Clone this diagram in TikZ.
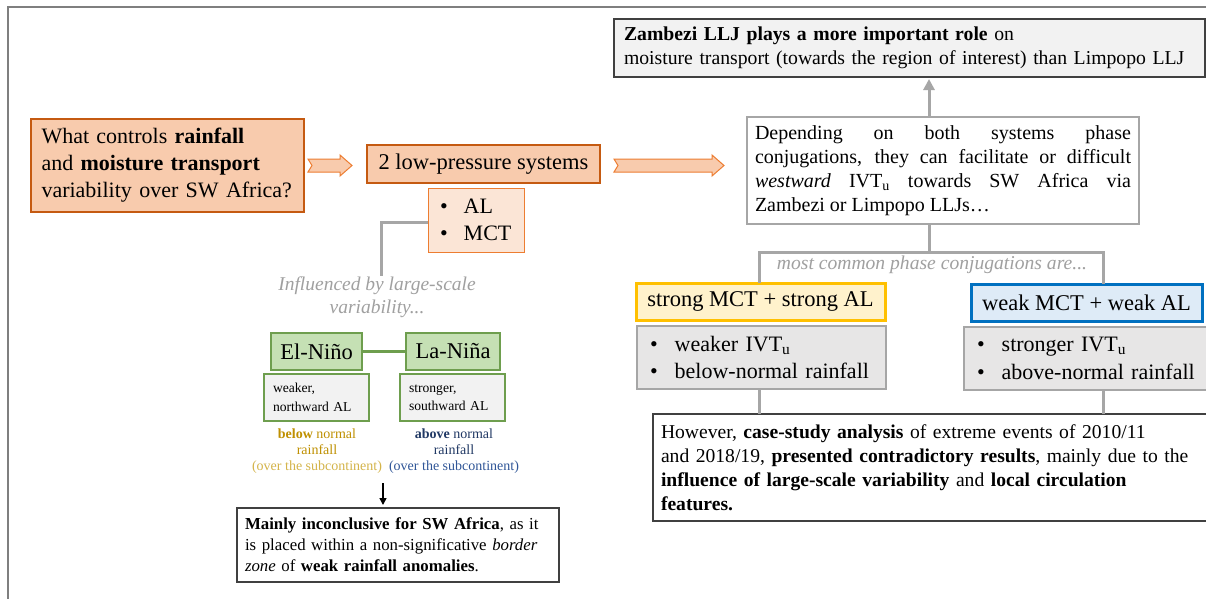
\documentclass[tikz,border=0pt]{standalone}
\usepackage{fontspec}
\setmainfont{Liberation Serif}
\usetikzlibrary{arrows.meta,calc}
\definecolor{peach}{HTML}{F8CBAD}
\definecolor{peachlight}{HTML}{FBE5D6}
\definecolor{darkorange}{HTML}{C55A11}
\definecolor{midorange}{HTML}{ED7D31}
\definecolor{linegray}{HTML}{A6A6A6}
\definecolor{framegray}{HTML}{7F7F7F}
\definecolor{boxgray}{HTML}{E7E6E6}
\definecolor{lightgray2}{HTML}{F2F2F2}
\definecolor{darkline}{HTML}{404040}
\definecolor{yellowfill}{HTML}{FFF2CC}
\definecolor{gold}{HTML}{FFC000}
\definecolor{bluefill}{HTML}{DEEBF7}
\definecolor{blueline}{HTML}{0070C0}
\definecolor{greenfill}{HTML}{C5E0B4}
\definecolor{greenline}{HTML}{6E9E4E}
\definecolor{goldtext}{HTML}{BF9000}
\definecolor{goldtextlight}{HTML}{D4B44A}
\definecolor{navytext}{HTML}{203864}
\definecolor{navytextlight}{HTML}{2F5597}
\definecolor{graytext}{HTML}{A0A0A0}
\newcommand\fzA{\fontsize{22.5}{27}\selectfont}
\newcommand\fzQ{\fontsize{22}{27}\selectfont}
\newcommand\fzB{\fontsize{19.7}{24}\selectfont}
\newcommand\fzC{\fontsize{19.6}{24}\selectfont}
\newcommand\fzD{\fontsize{16.8}{21}\selectfont}
\newcommand\fzE{\fontsize{13.6}{18.5}\selectfont}
\newcommand\fzF{\fontsize{14}{16}\selectfont}
\newcommand\fzG{\fontsize{19.5}{22.5}\selectfont}
\newcommand\fzH{\fontsize{22}{27.5}\selectfont}
\newcommand\blockarr[3]{%
  \draw[barrow] (#1,#3-6.5) -- (#2-12,#3-6.5) -- (#2-12,#3-10.5) -- (#2,#3)
    -- (#2-12,#3+10.5) -- (#2-12,#3+6.5) -- (#1,#3+6.5) -- (#1+4,#3) -- cycle;}
\begin{document}
\begin{tikzpicture}[x=1pt,y=-1pt,
  every node/.style={inner sep=0pt,outer sep=0pt},
  wh/.style 2 args={minimum width=#1pt,minimum height=#2pt},
  orangebox/.style={draw=darkorange,fill=peach,line width=2.5pt},
  palebox/.style={draw=midorange,fill=peachlight,line width=1pt},
  barrow/.style={draw=midorange,fill=peach,line width=1pt},
  grayline/.style={draw=linegray,line width=3pt},
  darkbox/.style={draw=darkline,line width=1.5pt},
  bulletbox/.style={draw=linegray,fill=boxgray,line width=1.5pt},
  greenbox/.style={draw=greenline,fill=greenfill,line width=1.5pt},
  smallbox/.style={draw=greenline,fill=lightgray2,line width=1.2pt},
  ghost/.style={text=graytext,font=\fzG\itshape,align=center}]
\useasboundingbox (0,0) rectangle (1206,598);
\fill[white] (0,0) rectangle (1206,598);
\draw[framegray,line width=2pt] (8,600) -- (8,7) -- (1208,7);

% left top
\node[orangebox,wh={273}{93},text width=252pt,align=left,font=\fzQ] (q) at (167.5,165.5)
  {What controls \textbf{rainfall}\\and \textbf{moisture transport}\\variability over SW Africa?};
\node[orangebox,wh={233}{38},font=\fzA] (sys) at (483.5,164) {2 low-pressure systems};
\node[palebox,wh={96}{64},text width=72pt,align=left,font=\fzH] (almct) at (476,220)
  {\textbullet\hspace{16pt}AL\\\textbullet\hspace{16pt}MCT};
\blockarr{308}{352}{165.5}
\node[ghost] (infl) at (377,297) {Influenced by large-scale\\variability...};
\coordinate (ix) at (381,276);
\draw[grayline] (almct.west |- 0,222) -| (ix);

% El Nino / La Nina
\node[greenbox,wh={91}{37},font=\fzA] (elnino) at (316.5,351.5) {El-Niño};
\node[greenbox,wh={94}{37},font=\fzA] (lanina) at (453,351.5) {La-Niña};
\draw[greenline,line width=2.5pt] (elnino.east) -- (lanina.west);
\node[smallbox,wh={105}{47},text width=87pt,align=left,font=\fzE] (weaker) at (316.5,397.5)
  {weaker,\\northward AL};
\node[smallbox,wh={105}{47},text width=87pt,align=left,font=\fzE] (stronger) at (452.5,397.5)
  {stronger,\\southward AL};
\node[align=center,font=\fzF] (below) at (317,451)
  {\textcolor{goldtext}{\textbf{below} normal}\\\textcolor{goldtext}{rainfall}\\\textcolor{goldtextlight}{(over the subcontinent)}};
\node[align=center,font=\fzF] (above) at (454,451)
  {\textcolor{navytext}{\textbf{above} normal}\\\textcolor{navytext}{rainfall}\\\textcolor{navytextlight}{(over the subcontinent)}};
\node[darkbox,fill=white,wh={322}{74},text width=306pt,align=left,font=\fzD] (mainly) at (398,545)
  {\textbf{Mainly inconclusive for SW Africa}, as it\\is placed within a non-significative \textit{border}\\\textit{zone} of \textbf{weak rainfall anomalies}.};
\coordinate (ar) at (383,483);
\draw[black,line width=1.5pt,-{Triangle[length=7pt,width=7pt]}] (ar) -- (ar |- 0,505);

% right part
\blockarr{614}{724}{165.5}
\node[darkbox,fill=lightgray2,wh={591}{58},text width=571pt,align=left,font=\fzB] (zamb) at (909.5,48)
  {\textbf{Zambezi LLJ plays a more important role} on\\moisture transport (towards the region of interest) than Limpopo LLJ};
\node[draw=linegray,fill=white,line width=1.5pt,wh={392}{107},font=\fzB] (dep) at (943,170.5)
  {\begin{minipage}{376pt}\setlength\parindent{0pt}\fontsize{20}{24}\selectfont
   Depending on both systems phase\linebreak conjugations, they can facilitate or difficult\linebreak
   \textit{westward} IVT\textsubscript{u} towards SW Africa via\linebreak Zambezi or Limpopo LLJs…\end{minipage}};
\coordinate (upx) at (929,0);
\draw[grayline,-{Triangle[length=11pt,width=11pt]}] (dep.north -| upx) -- ($(zamb.south -| upx)+(0,2)$);

\node[draw=gold,fill=yellowfill,line width=3pt,wh={249}{37},font=\fzA] (strong) at (760.5,301.5) {strong MCT + strong AL};
\node[draw=blueline,fill=bluefill,line width=3pt,wh={231}{37},font=\fzA] (weak) at (1086.5,302.5) {weak MCT + weak AL};
\coordinate (jn) at (929,252);
\coordinate (xl) at (759,0);
\coordinate (xr) at (1103,0);
\draw[grayline] (dep.south -| jn) -- (jn);
\draw[grayline] (strong.north -| xl) -- (jn -| xl) -- (jn -| xr) -- (weak.north -| xr);
\node[ghost,font=\fontsize{19.6}{22}\selectfont\itshape] (mcc) at (932,265) {most common phase conjugations are...};

\node[bulletbox,wh={249}{63},text width=223pt,align=left,font=\fzH] (gl) at (761.5,357.5)
  {\textbullet\hspace{17pt}weaker IVT\textsubscript{u}\\\textbullet\hspace{17pt}below-normal rainfall};
\node[bulletbox,wh={246}{63},text width=220pt,align=left,font=\fzH] (gr) at (1087,358.5)
  {\textbullet\hspace{17pt}stronger IVT\textsubscript{u}\\\textbullet\hspace{17pt}above-normal rainfall};
\node[darkbox,fill=white,wh={555}{107},text width=539pt,align=left,font=\fzC] (how) at (930.5,467.5)
  {However, \textbf{case-study analysis} of extreme events of 2010/11\\and 2018/19, \textbf{presented contradictory results}, mainly due to the\\\textbf{influence of large-scale variability} and \textbf{local circulation}\\\textbf{features.}};
\draw[grayline] (gl.south -| xl) -- (how.north -| xl);
\draw[grayline] (gr.south -| xr) -- (how.north -| xr);
\end{tikzpicture}
\end{document}
